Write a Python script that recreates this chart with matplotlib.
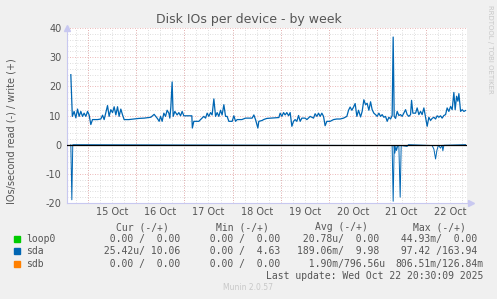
import matplotlib
matplotlib.use("Agg")
import matplotlib.pyplot as plt
import matplotlib.dates as mdates
from matplotlib.patches import Rectangle
from datetime import datetime, timedelta

plt.rcParams['axes.unicode_minus'] = False

# time as fractional day of October 2025, values in IOs/second
write_days = [14.650, 14.681, 14.718, 14.754, 14.789, 14.822, 14.857, 14.892, 14.925, 14.961,
              14.996, 15.029, 15.064, 15.099, 15.203, 15.271, 15.307, 15.340, 15.410, 15.443,
              15.478, 15.514, 15.547, 15.582, 15.617, 15.650, 15.685, 15.721, 15.754, 15.851,
              15.955, 16.058, 16.168, 16.307, 16.375, 16.446, 16.479, 16.508, 16.541, 16.576,
              16.611, 16.644, 16.680, 16.700, 16.721, 16.748, 16.769, 16.804, 16.851, 16.887,
              16.922, 16.955, 16.990, 17.156, 17.166, 17.197, 17.301, 17.336, 17.404, 17.440,
              17.473, 17.508, 17.543, 17.576, 17.612, 17.647, 17.680, 17.715, 17.750, 17.783,
              17.819, 17.854, 17.887, 17.922, 17.991, 18.026, 18.061, 18.094, 18.191, 18.268,
              18.405, 18.440, 18.475, 18.523, 18.543, 18.612, 18.641, 18.709, 18.958, 18.985,
              19.020, 19.055, 19.088, 19.123, 19.159, 19.192, 19.227, 19.262, 19.295, 19.330,
              19.366, 19.399, 19.434, 19.502, 19.538, 19.606, 19.676, 19.709, 19.745, 19.780,
              19.813, 19.848, 19.883, 19.916, 19.952, 20.020, 20.090, 20.159, 20.227, 20.298,
              20.366, 20.401, 20.434, 20.469, 20.505, 20.538, 20.573, 20.608, 20.650, 20.683,
              20.718, 20.753, 20.786, 20.822, 20.857, 20.890, 20.925, 20.960, 20.993, 21.029,
              21.064, 21.097, 21.132, 21.167, 21.201, 21.236, 21.271, 21.304, 21.325, 21.346,
              21.375, 21.408, 21.443, 21.478, 21.511, 21.546, 21.582, 21.615, 21.650, 21.685,
              21.706, 21.733, 21.789, 21.822, 21.857, 21.892, 21.925, 21.961, 21.996, 22.029,
              22.064, 22.099, 22.132, 22.168, 22.203, 22.236, 22.271, 22.306, 22.339, 22.375,
              22.410, 22.443, 22.478, 22.514, 22.547, 22.582, 22.609, 22.638, 22.665, 22.686,
              22.721, 22.754, 22.789, 22.824]
write_vals = [24.0, 9.7, 11.4, 9.2, 12.2, 9.7, 11.4, 9.7, 10.8, 9.7,
              11.4, 10.2, 6.9, 8.6, 8.6, 8.8, 10.1, 8.6, 13.4, 9.7,
              12.0, 11.0, 13.0, 10.2, 13.0, 9.7, 12.2, 10.2, 8.6, 8.6,
              8.8, 9.0, 9.1, 9.4, 10.4, 8.9, 8.0, 9.7, 8.0, 10.8,
              9.7, 11.8, 10.8, 9.1, 12.9, 21.5, 9.7, 11.4, 10.2, 11.0,
              9.9, 11.4, 9.9, 9.9, 5.7, 8.0, 8.0, 8.6, 9.7, 9.1,
              10.8, 9.7, 11.0, 10.2, 15.7, 9.7, 11.0, 9.7, 11.8, 10.2,
              13.7, 9.7, 9.7, 8.0, 8.0, 9.9, 8.0, 8.6, 8.6, 9.1,
              9.1, 10.2, 8.6, 5.7, 8.0, 8.3, 8.6, 9.0, 9.3, 10.8,
              9.7, 11.0, 10.2, 11.0, 9.9, 11.0, 6.3, 8.0, 8.6, 8.0,
              10.0, 8.0, 9.1, 9.1, 8.6, 9.7, 9.1, 10.6, 9.7, 10.8,
              9.7, 10.8, 9.7, 6.5, 8.0, 8.0, 8.6, 8.8, 8.8, 9.1,
              9.7, 11.8, 12.9, 11.8, 12.9, 14.1, 9.7, 11.8, 9.5, 11.4,
              15.4, 13.7, 14.2, 11.8, 14.7, 12.0, 10.8, 10.3, 9.7, 10.8,
              9.7, 10.3, 9.4, 9.7, 8.0, 9.4, 8.8, 10.0, 36.9, 9.7,
              9.0, 11.4, 10.0, 10.3, 9.7, 10.8, 12.0, 10.3, 9.7, 10.3,
              15.2, 10.8, 10.8, 12.6, 10.3, 11.4, 10.3, 12.6, 9.4, 6.3,
              9.4, 8.3, 9.0, 9.4, 8.8, 9.9, 9.4, 9.9, 9.1, 10.0,
              10.3, 12.6, 11.4, 13.1, 12.0, 17.9, 12.0, 16.6, 14.9, 17.5,
              11.4, 12.0, 11.4, 11.7]

read_days = [14.650, 14.671, 14.690, 21.304, 21.325, 21.346, 21.360, 21.381, 21.395, 21.422,
             21.443, 21.470, 21.491, 21.615, 21.640, 22.132, 22.168, 22.203, 22.230, 22.261,
             22.306, 22.339, 22.354, 22.375, 22.824]
read_vals = [0.0, 18.9, 0.0, 0.3, 19.4, 0.5, 2.9, 0.5, 2.0, 0.3,
             0.5, 18.0, 0.3, 0.6, 0.0, 0.3, 1.5, 4.9, 2.0, 0.2,
             1.2, 0.2, 2.1, 0.2, 0.0]

devices = ["loop0", "sda", "sdb"]
dev_colors = ["#00CC00", "#0066B3", "#FF8000"]
cur_txt = ["  0.00 /  0.00 ", " 25.42u/ 10.06 ", "  0.00 /  0.00 "]
min_txt = ["  0.00 /  0.00 ", "  0.00 /  4.63 ", "  0.00 /  0.00 "]
avg_txt = [" 20.78u/  0.00 ", "189.06m/  9.98 ", "  1.90m/796.56u"]
max_txt = [" 44.93m/  0.00 ", " 97.42 /163.94 ", "806.51m/126.84m"]


def oct_day(d):
    return datetime(2025, 10, 1) + timedelta(days=d - 1)


W, H = 497, 299
fig = plt.figure(figsize=(W / 100, H / 100), dpi=100, facecolor="#F0F0F0")
ax = fig.add_axes([67 / W, 1 - 203 / H, 400 / W, 175 / H])
ax.set_facecolor("white")

end = oct_day(22.854)
start = end - timedelta(days=400 / 48.29)
ax.set_xlim(start, end)
ax.set_ylim(-20, 40)

# grid
ax.set_yticks(range(-20, 41, 10))
ax.set_yticks(range(-20, 41, 2), minor=True)
ax.xaxis.set_major_locator(mdates.HourLocator(byhour=12))
ax.xaxis.set_major_formatter(mdates.DateFormatter("%d %b"))
ax.xaxis.set_minor_locator(mdates.HourLocator(byhour=[0, 6, 18]))
ax.grid(which="minor", color="#D4D4D4", linestyle=(0, (1, 2)), linewidth=0.6)
ax.grid(which="major", axis="x", color="#D4D4D4", linestyle=(0, (1, 2)), linewidth=0.6)
ax.grid(which="major", axis="y", color="#E6A0A0", linestyle=(0, (1, 2)), linewidth=0.6)
for d in range(15, 23):
    ax.axvline(oct_day(d), color="#E6A0A0", linestyle=(0, (1, 2)), linewidth=0.6, zorder=1)
ax.set_axisbelow(True)

ax.tick_params(which="both", length=0, labelsize=7, colors="#555555")
ax.tick_params(axis="y", pad=4)
ax.tick_params(axis="x", pad=3)
for s in ["top", "right"]:
    ax.spines[s].set_visible(False)
for s in ["left", "bottom"]:
    ax.spines[s].set_color("#C8C8F0")
    ax.spines[s].set_linewidth(0.8)
ax.plot(0, 1.0, "^", color="#C8C8F0", ms=4, transform=ax.transAxes, clip_on=False)
ax.plot(1.01, 0, ">", color="#C8C8F0", ms=4, transform=ax.transAxes, clip_on=False)

ax.plot([oct_day(d) for d in write_days], write_vals, color=dev_colors[1], lw=0.9, zorder=3)
ax.plot([oct_day(d) for d in read_days], [-v for v in read_vals], color=dev_colors[1], lw=0.7, zorder=3)
ax.axhline(0, color="black", lw=0.9, zorder=4)

fig.text(12 / W, 1 - 131 / H, "IOs/second read (-) / write (+)", rotation=90, ha="center",
         va="center", fontsize=7, color="#555555")
fig.text(249 / W, 1 - 19 / H, "Disk IOs per device - by week", ha="center", va="center",
         fontsize=9, color="#555555")
fig.text(490 / W, 1 - 5 / H, "RRDTOOL / TOBI OETIKER", rotation=270, ha="center", va="top",
         fontsize=5, color="#C8C8C8")

# legend
mono = dict(family="DejaVu Sans Mono", fontsize=7, color="#555555", va="center")
col_x = [98, 198, 297, 395]
heads = ["Cur (-/+)", "Min (-/+)", "Avg (-/+)", "Max (-/+)"]
for cx, hd in zip(col_x, heads):
    fig.text((cx + 44) / W, 1 - 227 / H, hd, ha="center", **mono)
rows_y = [239, 251, 264]
for i, dev in enumerate(devices):
    y = rows_y[i]
    fig.add_artist(Rectangle((14 / W, 1 - (y + 3) / H), 6 / W, 6 / H, color=dev_colors[i],
                             transform=fig.transFigure))
    fig.text(26 / W, 1 - y / H, dev, ha="left", **mono)
    for cx, txt in zip(col_x, [cur_txt[i], min_txt[i], avg_txt[i], max_txt[i]]):
        fig.text(cx / W, 1 - y / H, txt, ha="left", **mono)
fig.text(483 / W, 1 - 276 / H, "Last update: Wed Oct 22 20:30:09 2025", ha="right", **mono)
fig.text(248 / W, 1 - 288 / H, "Munin 2.0.57", ha="center", va="center", fontsize=5.5,
         color="#C8C8C8")

fig.savefig("out.png", dpi=100, facecolor=fig.get_facecolor())
